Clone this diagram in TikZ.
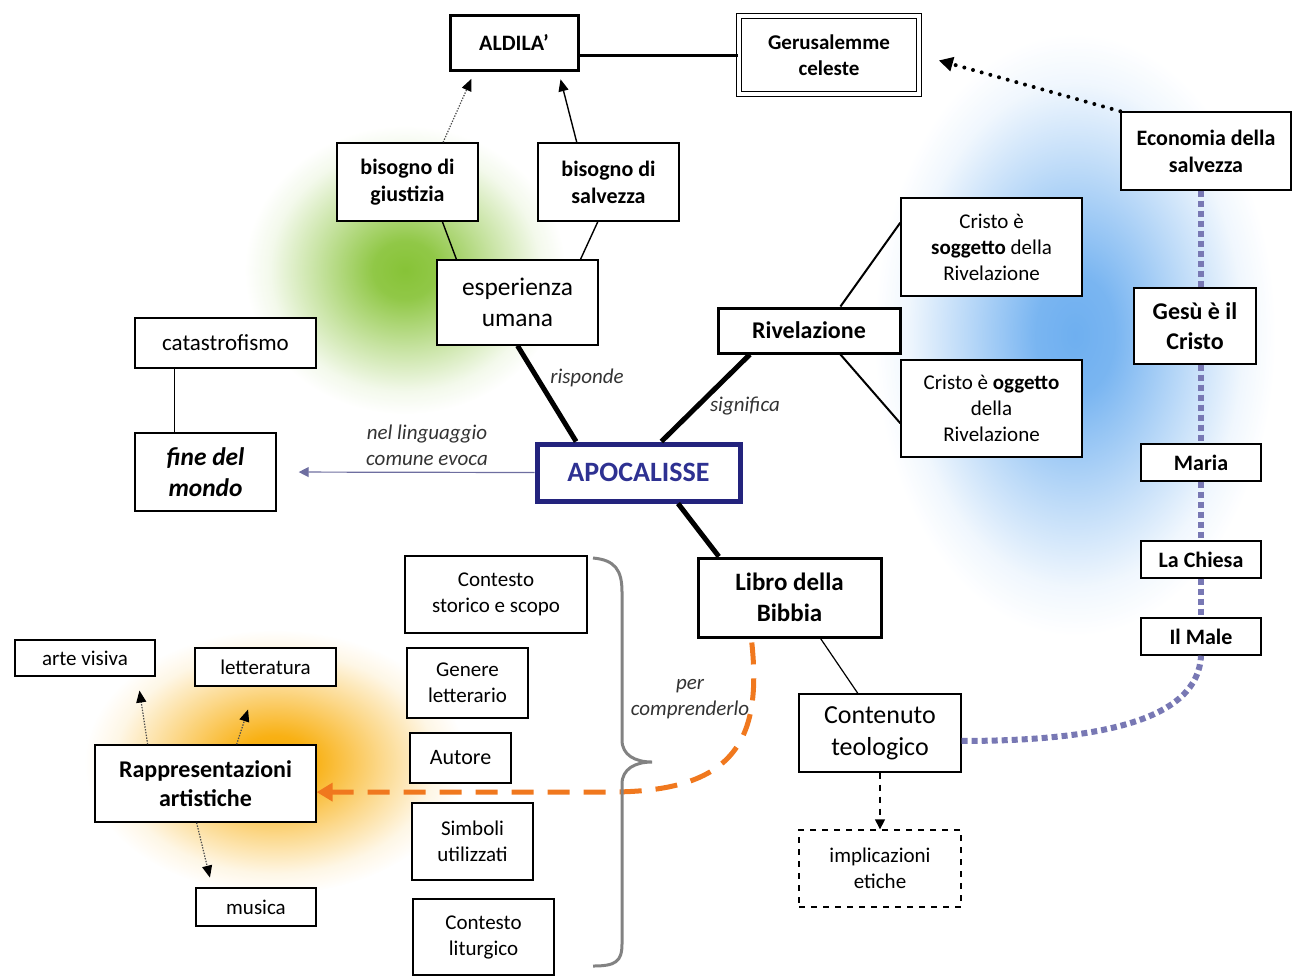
\documentclass[tikz,border=0pt]{standalone}
\usepackage{fontspec}
\setmainfont{Carlito}
\usetikzlibrary{arrows.meta,calc,fadings}
\definecolor{navy}{RGB}{35,35,125}
\definecolor{apotext}{RGB}{46,49,146}
\definecolor{lav}{RGB}{120,120,180}
\definecolor{orng}{RGB}{240,120,30}
\definecolor{evoca}{RGB}{110,110,160}
\definecolor{brc}{RGB}{130,130,130}
\definecolor{gglow}{RGB}{135,195,55}
\definecolor{bglow}{RGB}{110,175,240}
\definecolor{oglow}{RGB}{248,170,0}
\newcommand\fsz[2]{\fontsize{#1}{#2}\selectfont}
\pgfdeclareradialshading{glowshade}{\pgfpointorigin}{color(0bp)=(white); color(5bp)=(white!92!black); color(14bp)=(white!45!black); color(21bp)=(white!10!black); color(25bp)=(black); color(50bp)=(black)}
\pgfdeclarefading{glowfade}{\pgfuseshading{glowshade}}
\begin{document}
\begin{tikzpicture}[x=0.5pt,y=-0.5pt,
  box/.style={draw, fill=white, align=center, inner sep=0pt, line width=0.7pt, font=\fsz{10.5}{13}},
  wh/.style 2 args={minimum width=#1*0.5pt, minimum height=#2*0.5pt},
  bx/.style={box, font=\bfseries\fsz{11}{13.5}},
  lbl/.style={font=\itshape\fsz{10.5}{13}, text=black!80, align=center, inner sep=0pt},
  thickc/.style={line width=2.5pt},
  thinc/.style={line width=0.7pt},
  dotarrow/.style={line width=0.6pt, black!70, dash pattern=on 0.7pt off 0.7pt, -{Triangle[width=5pt,length=6pt,color=black]}},
  lavdot/.style={lav, line width=3pt, dash pattern=on 3pt off 2pt},
]
\useasboundingbox (0,0) rectangle (1294,976);

% glows
\fill[bglow, path fading=glowfade] (1075,335) ellipse [x radius=100pt, y radius=150pt];
\fill[gglow, path fading=glowfade] (405,270) ellipse [x radius=80pt, y radius=72pt];
\fill[oglow, path fading=glowfade] (275,762) ellipse [x radius=95pt, y radius=66pt];

% nodes
\node[bx, wh={128}{55}, line width=1.5pt] (ald) at (514,42.5) {ALDILA’};
\node[bx, wh={180}{78}, line width=0.6pt, double, double distance=1.6pt, font=\bfseries\fsz{10.5}{13}] (ger) at (829,55) {Gerusalemme\\celeste};
\node[bx, wh={141}{78}] (giu) at (407.5,182) {bisogno di\\giustizia};
\node[bx, wh={141}{78}] (sal) at (608.5,182) {bisogno di\\salvezza};
\node[box, wh={161}{85}, font=\fsz{12.7}{15.5}] (esp) at (517.5,302.5) {esperienza\\umana};
\node[box, wh={181}{50}, font=\fsz{11.5}{14}] (cat) at (225.5,343) {catastrofismo};
\node[box, wh={141}{78}, font=\bfseries\itshape\fsz{12.7}{15.5}] (fin) at (205.5,472) {fine del\\mondo};
\node[box, wh={203}{57}, draw=navy, line width=2.5pt, text=apotext, font=\bfseries\fsz{14}{17}] (apoc) at (638.5,472.5) {APOCALISSE};
\node[bx, wh={182}{45}, line width=1.5pt, font=\bfseries\fsz{12}{15}] (riv) at (809,330.5) {Rivelazione};
\node[box, wh={181}{98}] (cs) at (991.5,247) {Cristo è\\\textbf{soggetto} della\\Rivelazione};
\node[box, wh={181}{97}] (co) at (991.5,408.5) {Cristo è \textbf{oggetto}\\della\\Rivelazione};
\node[bx, wh={170}{78}] (eco) at (1206,151) {Economia della\\salvezza};
\node[bx, wh={122}{76}, font=\bfseries\fsz{12}{15}] (gesu) at (1195,326) {Gesù è il\\Cristo};
\node[bx, wh={120}{37}] (mar) at (1201,462.5) {Maria};
\node[bx, wh={120}{37}] (chi) at (1201,559.5) {La Chiesa};
\node[bx, wh={120}{37}] (mal) at (1201,636.5) {Il Male};
\node[bx, wh={183}{79}, line width=1.5pt, font=\bfseries\fsz{12.5}{15.5}] (lib) at (789.5,597.5) {Libro della\\Bibbia};
\node[box, wh={162}{78}, font=\fsz{13}{16}] (con) at (880,733) {Contenuto\\teologico};
\node[box, wh={162}{77}, dashed] (imp) at (880,868.5) {implicazioni\\etiche};
\node[box, wh={182}{77}] (cst) at (496,594.5) {Contesto\\storico e scopo};
\node[box, wh={121}{70}] (gen) at (467.5,683) {Genere\\letterario};
\node[box, wh={101}{50}, font=\fsz{11}{13.5}] (aut) at (460.5,758) {Autore};
\node[box, wh={121}{77}] (sim) at (472.5,841.5) {Simboli\\utilizzati};
\node[box, wh={141}{76}] (cli) at (483.5,937) {Contesto\\liturgico};
\node[box, wh={140}{36}] (art) at (85,658) {arte visiva};
\node[box, wh={141}{38}] (let) at (265.5,667) {letteratura};
\node[bx, wh={221}{77}, font=\bfseries\fsz{12}{14.5}] (rap) at (205.5,783.5) {Rappresentazioni\\artistiche};
\node[box, wh={120}{38}] (mus) at (256,907) {musica};

% labels
\node[lbl] (l1) at (427,445) {nel linguaggio\\comune evoca};
\node[lbl] (l2) at (587,378) {risponde};
\node[lbl] (l3) at (745,406) {significa};
\node[lbl] (l4) at (690,699) {per\\comprenderlo};

% connectors
\draw[line width=1.5pt] (ald.east |- ger.west) -- (ger.west);
\draw[dotarrow, shorten >=4pt] ($(giu.north west)!0.75!(giu.north east)$) -- ($(ald.south west)!0.2!(ald.south east)$);
\draw[thinc, -{Triangle[width=5pt,length=6pt]}, shorten >=4pt] ($(sal.north west)!0.277!(sal.north east)$) -- ($(ald.south west)!0.84!(ald.south east)$);
\draw[thinc] ($(giu.south west)!0.745!(giu.south east)$) -- ($(esp.north west)!0.124!(esp.north east)$);
\draw[thinc] ($(sal.south west)!0.425!(sal.south east)$) -- ($(esp.north west)!0.888!(esp.north east)$);
\draw[thickc] (esp.south) -- ($(apoc.north west)!0.2!(apoc.north east)$);
\draw[thickc] ($(apoc.north west)!0.61!(apoc.north east)$) -- ($(riv.south west)!0.18!(riv.south east)$);
\draw[thickc] ($(apoc.south west)!0.69!(apoc.south east)$) -- ($(lib.north west)!0.12!(lib.north east)$);
\draw[line width=1pt] ($(riv.north west)!0.67!(riv.north east)$) -- ($(cs.north west)!0.255!(cs.south west)$);
\draw[line width=1pt] ($(riv.south west)!0.67!(riv.south east)$) -- ($(co.north west)!0.65!(co.south west)$);
\draw[evoca, line width=0.6pt, -{Triangle[width=5pt,length=5pt]}, shorten >=11pt] (apoc.west) -- (fin.east);
\coordinate (cb) at ($(cat.south west)!0.22!(cat.south east)$);
\draw[thinc] (cb) -- (cb |- fin.north);
\draw[line width=2pt, dash pattern=on 0pt off 4.5pt, line cap=round, -{Triangle[width=7pt,length=7pt]}, shorten >=10pt] (eco.north west) -- (ger.east);
\draw[lavdot] (eco.south -| mar.north) -- (gesu.north -| mar.north);
\draw[lavdot] (gesu.south -| mar.north) -- (mar.north);
\draw[lavdot] (mar.south) -- (chi.north);
\draw[lavdot] (chi.south) -- (mal.north);
\draw[lavdot] ($(con.north east)!0.6!(con.south east)$) .. controls (1100,741) and (1198,720) .. (mal.south);
\draw[line width=0.6pt] ($(lib.south west)!0.667!(lib.south east)$) -- ($(con.north west)!0.364!(con.north east)$);
\draw[line width=0.7pt, dashed, -{Triangle[width=5pt,length=5pt]}] (con.south) -- (imp.north);
\draw[orng, line width=2.5pt, dash pattern=on 11pt off 7pt, shorten <=2pt, -{Triangle[width=9pt,length=8pt]}] ($(lib.south west)!0.295!(lib.south east)$) .. controls (762,740) and (735,792) .. (610,792) -- ($(rap.north east)!0.61!(rap.south east)$);
\draw[dotarrow, shorten >=7pt] ($(rap.north west)!0.24!(rap.north east)$) -- ($(art.south west)!0.87!(art.south east)$);
\draw[dotarrow, shorten >=12pt] ($(rap.north west)!0.64!(rap.north east)$) -- ($(let.south west)!0.43!(let.south east)$);
\draw[dotarrow, shorten >=5pt] ($(rap.south west)!0.46!(rap.south east)$) -- ($(mus.north west)!0.14!(mus.north east)$);

% brace
\draw[brc, line width=1.5pt] (593,558) .. controls (615,560) and (622,570) .. (622,592) -- (622,740) .. controls (622,755) and (635,762) .. (652,762) .. controls (635,762) and (622,769) .. (622,784) -- (622,944) .. controls (622,962) and (615,966) .. (593,966);
\end{tikzpicture}
\end{document}
